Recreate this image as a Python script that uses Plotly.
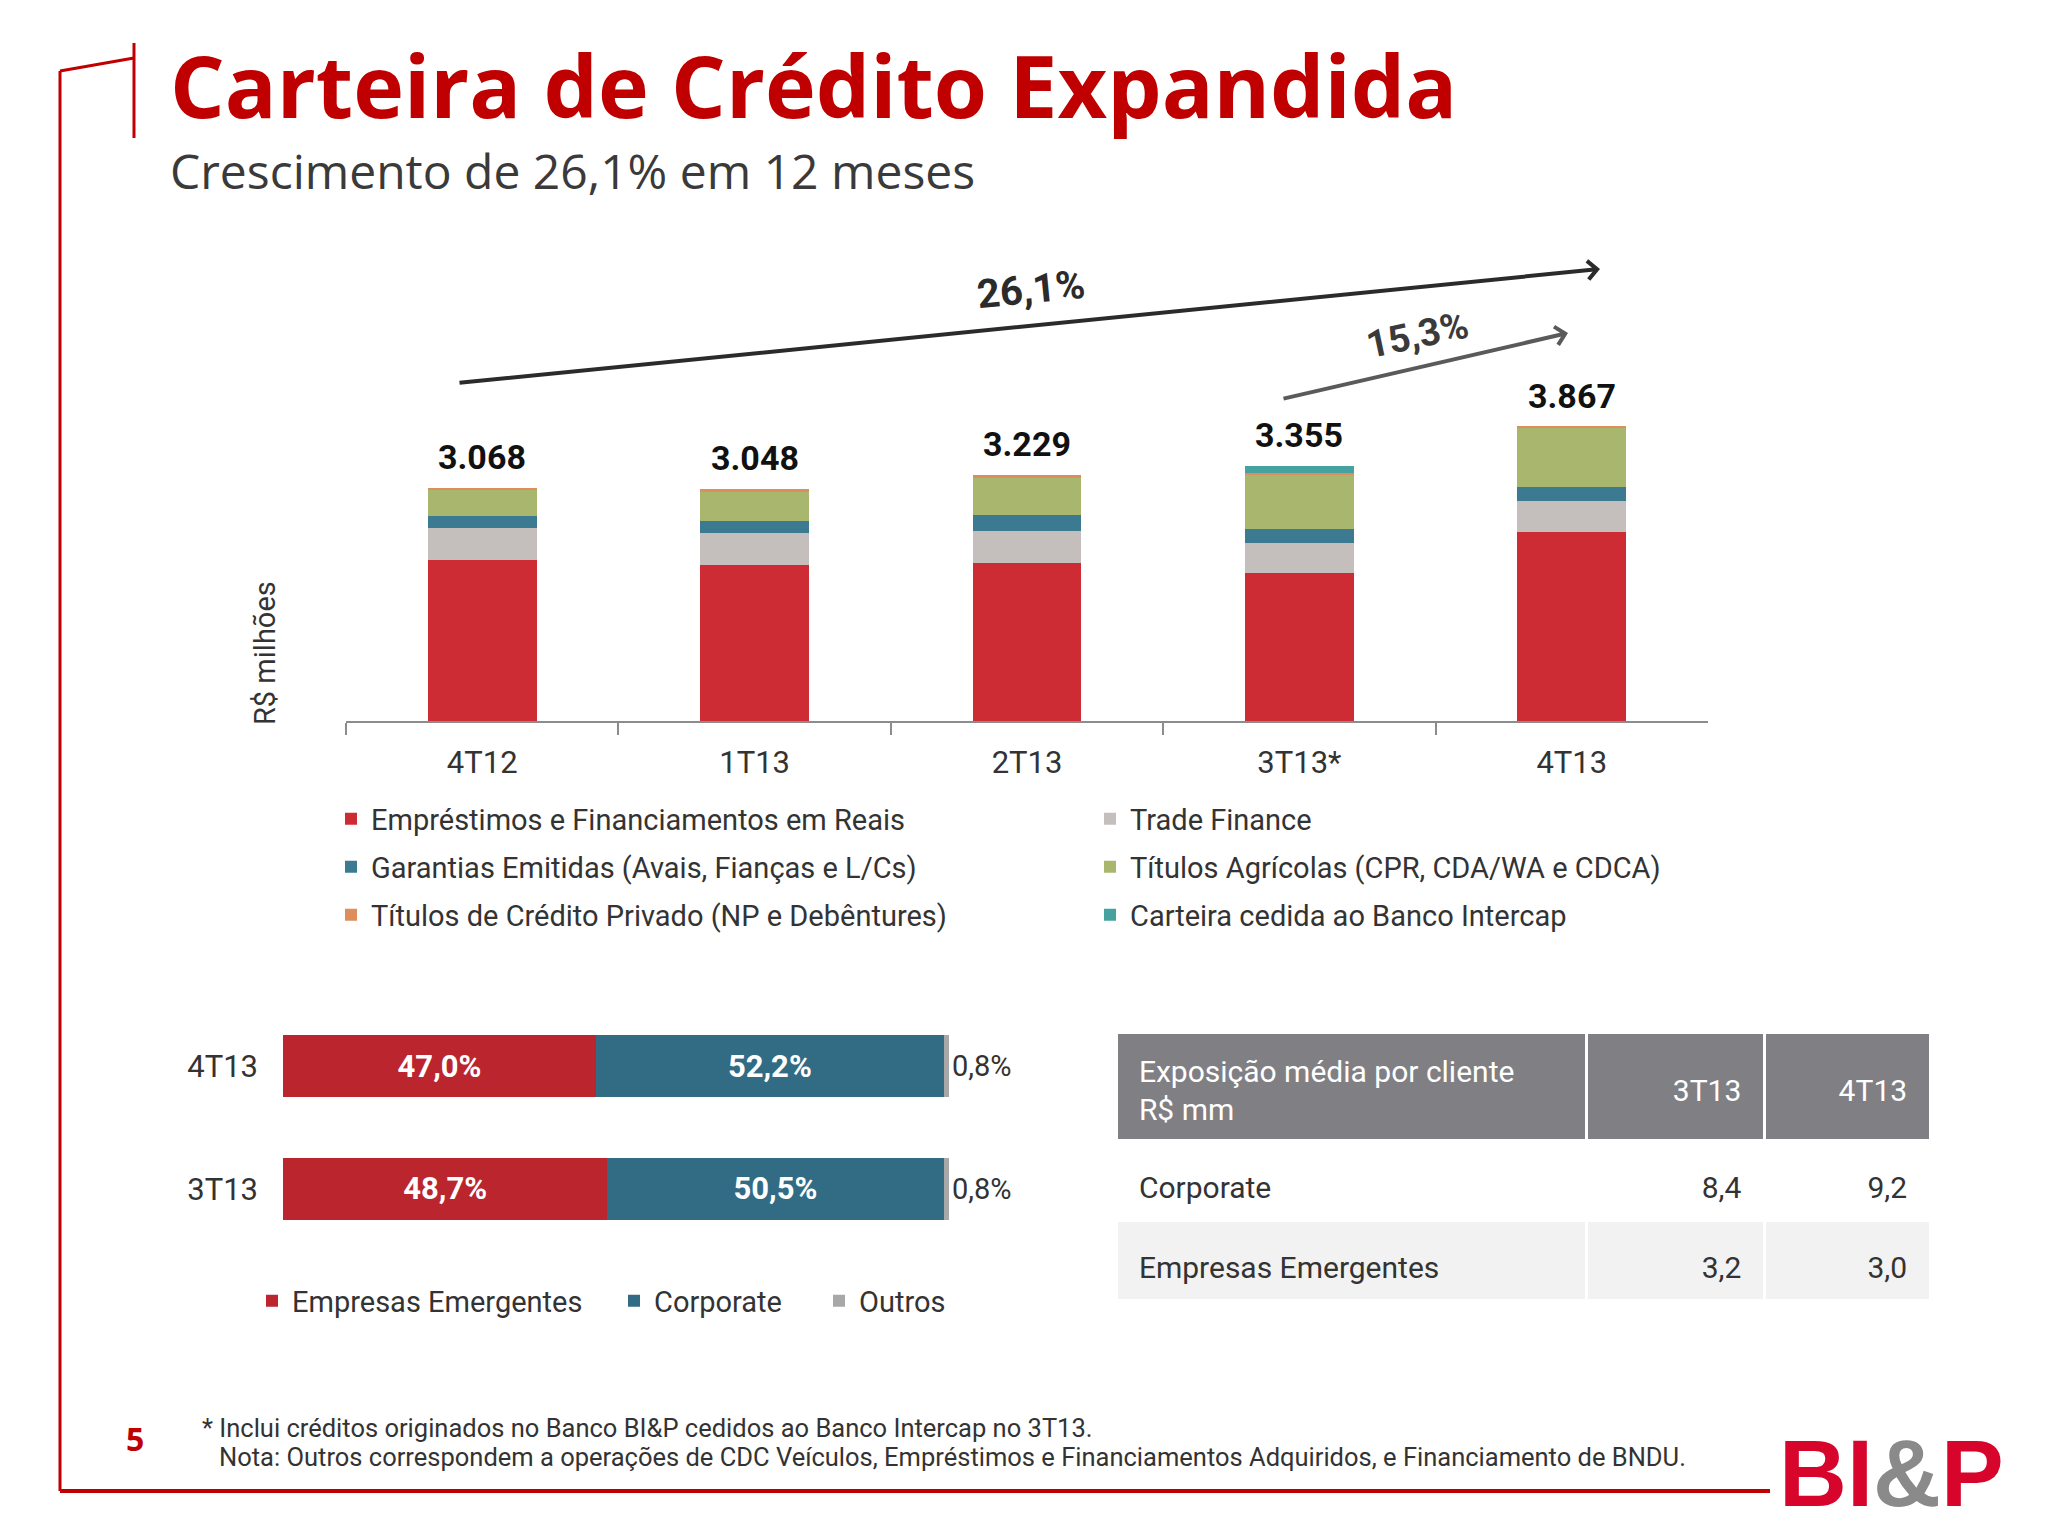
import plotly.graph_objects as go

# ---------------- data ----------------
quarters = ["4T12", "1T13", "2T13", "3T13*", "4T13"]
emprestimos = [2112, 2047, 2073, 1940, 2479]
trade_finance = [430, 417, 425, 403, 412]
garantias = [153, 167, 210, 180, 184]
titulos_agricolas = [337, 373, 482, 718, 779]
titulos_credito_privado = [36, 44, 39, 13, 13]
carteira_cedida = [0, 0, 0, 101, 0]

series_names = [
    "Empréstimos e Financiamentos em Reais",
    "Trade Finance",
    "Garantias Emitidas (Avais, Fianças e L/Cs)",
    "Títulos Agrícolas (CPR, CDA/WA e CDCA)",
    "Títulos de Crédito Privado (NP e Debêntures)",
    "Carteira cedida ao Banco Intercap",
]
series_colors = ["#CE2C35", "#C4BFBD", "#3B7A90", "#A9B66E", "#DE8D5C", "#45A29E"]

growth_labels = ["26,1%", "15,3%"]

mix_periods = ["4T13", "3T13"]
mix_emergentes = [47.0, 48.7]
mix_corporate = [52.2, 50.5]
mix_outros = [0.8, 0.8]
mix_names = ["Empresas Emergentes", "Corporate", "Outros"]
mix_colors = ["#BB252E", "#316B84", "#A8A8A8"]

table_header = ["Exposição média por cliente", "R$ mm", "3T13", "4T13"]
table_rows = ["Corporate", "Empresas Emergentes"]
table_3t13 = [8.4, 3.2]
table_4t13 = [9.2, 3.0]

OFF = 8                      # page margin around the figure
W, H = 2048 - 2 * OFF, 1536 - 2 * OFF


def px(x):
    return (x - OFF) / W


def py(y):
    return 1 - (y - OFF) / H


def br_num(v):
    return f"{v:,}".replace(",", ".")


def br_pct(v):
    return f"{v:.1f}%".replace(".", ",")


def br_dec(v):
    return f"{v:.1f}".replace(".", ",")


def big(s, size=30):
    return f'<span style="font-size:{size}px">{s}</span>'


# tiny invisible first line: pushes the table text down to the cell's middle
GHOST = '<span style="font-size:4px;color:rgba(0,0,0,0)">.</span>'

TXT = "#333333"
RED = "#C00000"
FONT = "Roboto"

fig = go.Figure()

# -------- top stacked bars --------
all_series = [emprestimos, trade_finance, garantias, titulos_agricolas,
              titulos_credito_privado, carteira_cedida]
legend_for = ["legend", "legend", "legend2", "legend2", "legend3", "legend3"]
for name, vals, col, lg in zip(series_names, all_series, series_colors, legend_for):
    fig.add_trace(go.Bar(
        x=quarters, y=vals, name=name, marker=dict(color=col, line=dict(width=0)),
        width=0.4, xaxis="x", yaxis="y", legend=lg, hoverinfo="skip",
    ))

totals = [sum(v) for v in zip(*all_series)]
for q, t in zip(quarters, totals):
    fig.add_annotation(x=q, y=t, xref="x", yref="y", text=br_num(t), showarrow=False,
                       xanchor="center", yanchor="bottom", yshift=9,
                       font=dict(family=FONT, size=34, color="#111111", weight="bold"))

# -------- bottom horizontal mix bars --------
mix_series = [mix_emergentes, mix_corporate, mix_outros]
mix_legends = ["legend4", "legend5", "legend6"]
for i, (name, vals, col, lg) in enumerate(zip(mix_names, mix_series, mix_colors, mix_legends)):
    if i < 2:
        tp = "inside"
        tf = dict(family=FONT, size=31, color="white", weight="bold")
    else:
        tp = "outside"
        tf = dict(family=FONT, size=29, color=TXT)
    fig.add_trace(go.Bar(
        y=mix_periods, x=vals, name=name, orientation="h",
        marker=dict(color=col, line=dict(width=0)), width=0.51,
        text=[br_pct(v) for v in vals], textposition=tp, insidetextanchor="middle",
        textfont=tf, cliponaxis=False, constraintext="none",
        xaxis="x2", yaxis="y2", legend=lg, hoverinfo="skip",
    ))

# -------- table --------
pad = "\u00a0\u00a0"
header_vals = [
    GHOST + "<br>" + big(pad + table_header[0]) + "<br>" + big(pad + table_header[1]),
    GHOST + "<br>" + big(table_header[2] + pad),
    GHOST + "<br>" + big(table_header[3] + pad),
]
cell_vals = [
    [GHOST + "<br>" + big(pad + r) for r in table_rows],
    [GHOST + "<br>" + big(br_dec(v) + pad) for v in table_3t13],
    [GHOST + "<br>" + big(br_dec(v) + pad) for v in table_4t13],
]
fig.add_trace(go.Table(
    domain=dict(x=[px(1116), px(1931)], y=[py(1303), py(1032)]),
    columnwidth=[471, 178, 166],
    header=dict(
        values=header_vals,
        fill_color="#807F84", line=dict(color="white", width=3),
        font=dict(family=FONT, size=[29.2, 43.5, 43.5], color="white"),
        align=["left", "right", "right"], height=108,
    ),
    cells=dict(
        values=cell_vals,
        fill_color=[["#FFFFFF", "#F2F2F2"]] * 3,
        line=dict(color="white", width=3),
        font=dict(family=FONT, size=35, color=TXT),
        align=["left", "right", "right"], height=80,
    ),
))

# -------- layout --------
legend_common = dict(orientation="h", entrywidth=714, entrywidthmode="pixels",
                     font=dict(family=FONT, size=29, color=TXT), bgcolor="rgba(0,0,0,0)",
                     traceorder="normal", xanchor="left", yanchor="middle")
legend_small = dict(orientation="h", xanchor="left", yanchor="middle",
                    font=dict(family=FONT, size=29, color=TXT), bgcolor="rgba(0,0,0,0)")
fig.update_layout(
    width=W, height=H, autosize=False,
    margin=dict(l=0, r=0, t=0, b=0),
    paper_bgcolor="white", plot_bgcolor="rgba(0,0,0,0)",
    barmode="stack", showlegend=True,
    font=dict(family=FONT, color=TXT),
    xaxis=dict(domain=[px(346), px(1708)], type="category", categoryorder="array",
               categoryarray=quarters, anchor="y",
               showline=True, linecolor="#8C8C8C", linewidth=2,
               ticks="outside", tickson="boundaries", ticklen=12, tickcolor="#8C8C8C",
               tickwidth=2, tickfont=dict(family=FONT, size=31, color=TXT),
               ticklabelstandoff=13, showgrid=False, fixedrange=True),
    yaxis=dict(domain=[py(721), py(417)], range=[0, 4000 * (721 - 417) / 304.4],
               visible=False, anchor="x", fixedrange=True),
    xaxis2=dict(domain=[px(283), px(949)], range=[0, 100], visible=False, anchor="y2",
                fixedrange=True),
    yaxis2=dict(domain=[py(1250), py(1005)], type="category", categoryorder="array",
                categoryarray=["3T13", "4T13"], range=[-0.5, 1.5], anchor="x2",
                showline=False, ticks="", showgrid=False, zeroline=False,
                tickfont=dict(family=FONT, size=31, color=TXT), ticklabelstandoff=24,
                fixedrange=True),
    legend=dict(x=px(331), y=py(819), **legend_common),
    legend2=dict(x=px(331), y=py(867), **legend_common),
    legend3=dict(x=px(331), y=py(915), **legend_common),
    legend4=dict(x=px(252), y=py(1301), **legend_small),
    legend5=dict(x=px(614), y=py(1301), **legend_small),
    legend6=dict(x=px(819), y=py(1301), **legend_small),
)

# -------- text annotations --------
ann = []
ann.append(dict(x=px(168), y=py(84), text="Carteira de Crédito Expandida", xanchor="left",
                yanchor="middle", font=dict(family="Open Sans", size=86, color=RED, weight="bold")))
ann.append(dict(x=px(168), y=py(170), text="Crescimento de 26,1% em 12 meses", xanchor="left",
                yanchor="middle", font=dict(family="Open Sans", size=48, color="#3A3A3A")))
ann.append(dict(x=px(265), y=py(653), text="R$ milhões", textangle=-90, xanchor="center",
                yanchor="middle", font=dict(family=FONT, size=29, color=TXT)))
ann.append(dict(x=px(1031), y=py(290), text=growth_labels[0], textangle=-5.6,
                xanchor="center", yanchor="middle",
                font=dict(family=FONT, size=40, color="#2B2B2B", weight="bold")))
ann.append(dict(x=px(1417), y=py(335), text=growth_labels[1], textangle=-12,
                xanchor="center", yanchor="middle",
                font=dict(family=FONT, size=38, color="#3A3A3A", weight="bold")))
ann.append(dict(x=px(135), y=py(1438), text="5", xanchor="center", yanchor="middle",
                font=dict(family="Open Sans", size=32, color=RED, weight="bold")))
ann.append(dict(x=px(200), y=py(1428), xanchor="left", yanchor="middle",
                text="* Inclui créditos originados no Banco BI&amp;P cedidos ao Banco Intercap no 3T13.",
                font=dict(family=FONT, size=25.5, color=TXT)))
ann.append(dict(x=px(217), y=py(1457), xanchor="left", yanchor="middle",
                text="Nota: Outros correspondem a operações de CDC Veículos, Empréstimos e Financiamentos Adquiridos, e Financiamento de BNDU.",
                font=dict(family=FONT, size=25.5, color=TXT)))
# logo, kept fully inside the page
ann.append(dict(x=px(1891), y=py(1527), xanchor="center", yanchor="bottom", borderpad=0,
                text='<span style="color:#D7042B">BI</span><span style="color:#8A8A8A">&amp;</span><span style="color:#D7042B">P</span>',
                font=dict(family="Liberation Sans", size=94, weight="bold")))
for a in ann:
    a.setdefault("xref", "paper")
    a.setdefault("yref", "paper")
    a.setdefault("showarrow", False)
    fig.add_annotation(**a)

# growth arrows
fig.add_annotation(x=px(1600), y=py(269), xref="paper", yref="paper", text="",
                   showarrow=True, ax=458 - 1600, ay=383 - 269, axref="pixel", ayref="pixel",
                   arrowhead=4, arrowsize=0.9, arrowwidth=4, arrowcolor="#2B2B2B")
fig.add_annotation(x=px(1568), y=py(333), xref="paper", yref="paper", text="",
                   showarrow=True, ax=1282 - 1568, ay=399 - 333, axref="pixel", ayref="pixel",
                   arrowhead=4, arrowsize=0.9, arrowwidth=4, arrowcolor="#5A5A5A")

# -------- page frame --------
frame = [
    ((134, 43), (134, 138), 3),
    ((60, 71), (134, 58), 3),
    ((60, 71), (60, 1491), 3),
    ((60, 1491), (1770, 1491), 4),
]
for (x0, y0), (x1, y1), w in frame:
    fig.add_shape(type="line", xref="paper", yref="paper", x0=px(x0), y0=py(y0),
                  x1=px(x1), y1=py(y1), line=dict(color=RED, width=w))

fig.write_html("out.html")
